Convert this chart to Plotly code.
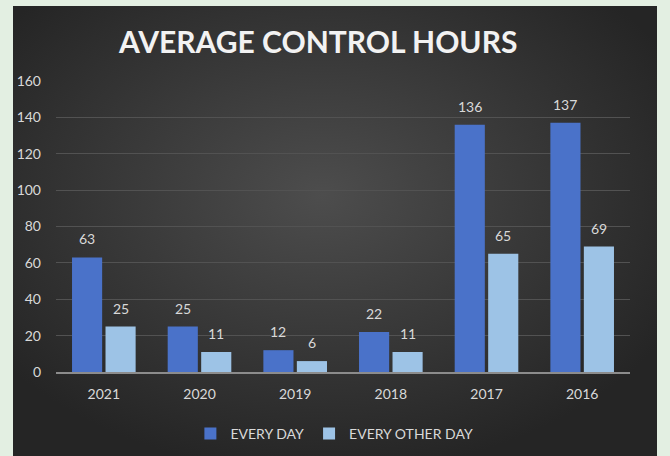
import plotly.graph_objects as go
import base64

years = ["2021", "2020", "2019", "2018", "2017", "2016"]
every_day = [63, 25, 12, 22, 136, 137]
every_other_day = [25, 11, 6, 11, 65, 69]

W, H = 670, 456
ml, mr, mt, mb = 56, 40, 81, 84
pw, ph = W - ml - mr, H - mt - mb

svg = """<svg xmlns='http://www.w3.org/2000/svg' width='644' height='450' viewBox='0 0 644 450' preserveAspectRatio='none'>
<defs><radialGradient id='g' cx='48%' cy='42%' r='62%'>
<stop offset='0%' stop-color='#4d4d4d'/><stop offset='100%' stop-color='#252525'/></radialGradient></defs>
<rect width='644' height='450' fill='url(#g)'/></svg>"""
src = "data:image/svg+xml;base64," + base64.b64encode(svg.encode()).decode()

x0 = (13 - ml) / pw
x1 = (657 - ml) / pw
ytop = (mt + ph - 6) / ph
ybot = (mt + ph - 456) / ph

bargap, bargroupgap = 0.3, 0.1
cat_px = pw / len(years)
slot = cat_px * (1 - bargap) / 2
shift = slot / 2

FONT = "Lato, Open Sans, sans-serif"
LBL = "#d9d9d9"

fig = go.Figure()
fig.add_trace(go.Bar(
    x=years, y=every_day, name="EVERY DAY",
    marker=dict(color="#4a72c9", line=dict(width=0)),
))
fig.add_trace(go.Bar(
    x=years, y=every_other_day, name="EVERY OTHER DAY",
    marker=dict(color="#9dc3e6", line=dict(width=0)),
))

annotations = []
for vals, sgn in ((every_day, -1), (every_other_day, 1)):
    for i, v in enumerate(vals):
        annotations.append(dict(
            x=i, y=v, xref="x", yref="y", text=str(v), showarrow=False,
            xshift=sgn * shift, yshift=8, yanchor="bottom",
            font=dict(size=14, color=LBL, family=FONT)))

fig.update_layout(
    width=W, height=H,
    margin=dict(l=ml, r=mr, t=mt, b=mb, autoexpand=False),
    paper_bgcolor="#e3efe2",
    plot_bgcolor="rgba(0,0,0,0)",
    font=dict(family=FONT, color=LBL, size=14),
    title=dict(text="<b>AVERAGE CONTROL HOURS</b>", x=0.475, xanchor="center",
               y=1 - 42 / H, yanchor="middle",
               font=dict(size=30, color="#f2f2f2", family=FONT)),
    barmode="group", bargap=bargap, bargroupgap=bargroupgap,
    annotations=annotations,
    images=[dict(source=src, xref="paper", yref="paper", x=x0, y=ytop,
                 sizex=x1 - x0, sizey=ytop - ybot, sizing="stretch",
                 xanchor="left", yanchor="top", layer="below")],
    legend=dict(orientation="h", x=0.485, xanchor="center", y=-(434 - (mt + ph)) / ph,
                yanchor="middle",
                font=dict(size=14, color=LBL), bgcolor="rgba(0,0,0,0)",
                itemwidth=30),
    showlegend=True,
    xaxis=dict(type="category", categoryorder="array", categoryarray=years,
               range=[-0.5, len(years) - 0.5], autorange=False,
               showgrid=False, showline=True, linecolor="#8c8c8c",
               linewidth=1.5, ticks="", tickfont=dict(size=14, color=LBL),
               ticklabelstandoff=8),
    yaxis=dict(range=[0, 160], autorange=False, dtick=20, showgrid=True,
               gridcolor="#525252", gridwidth=1, zeroline=False, showline=False,
               tickfont=dict(size=14, color=LBL), ticklabelstandoff=14),
)

fig.write_html("out.html", config={"displayModeBar": False},
               post_script="document.body.style.margin='0px';document.body.style.background='#e3efe2';")
